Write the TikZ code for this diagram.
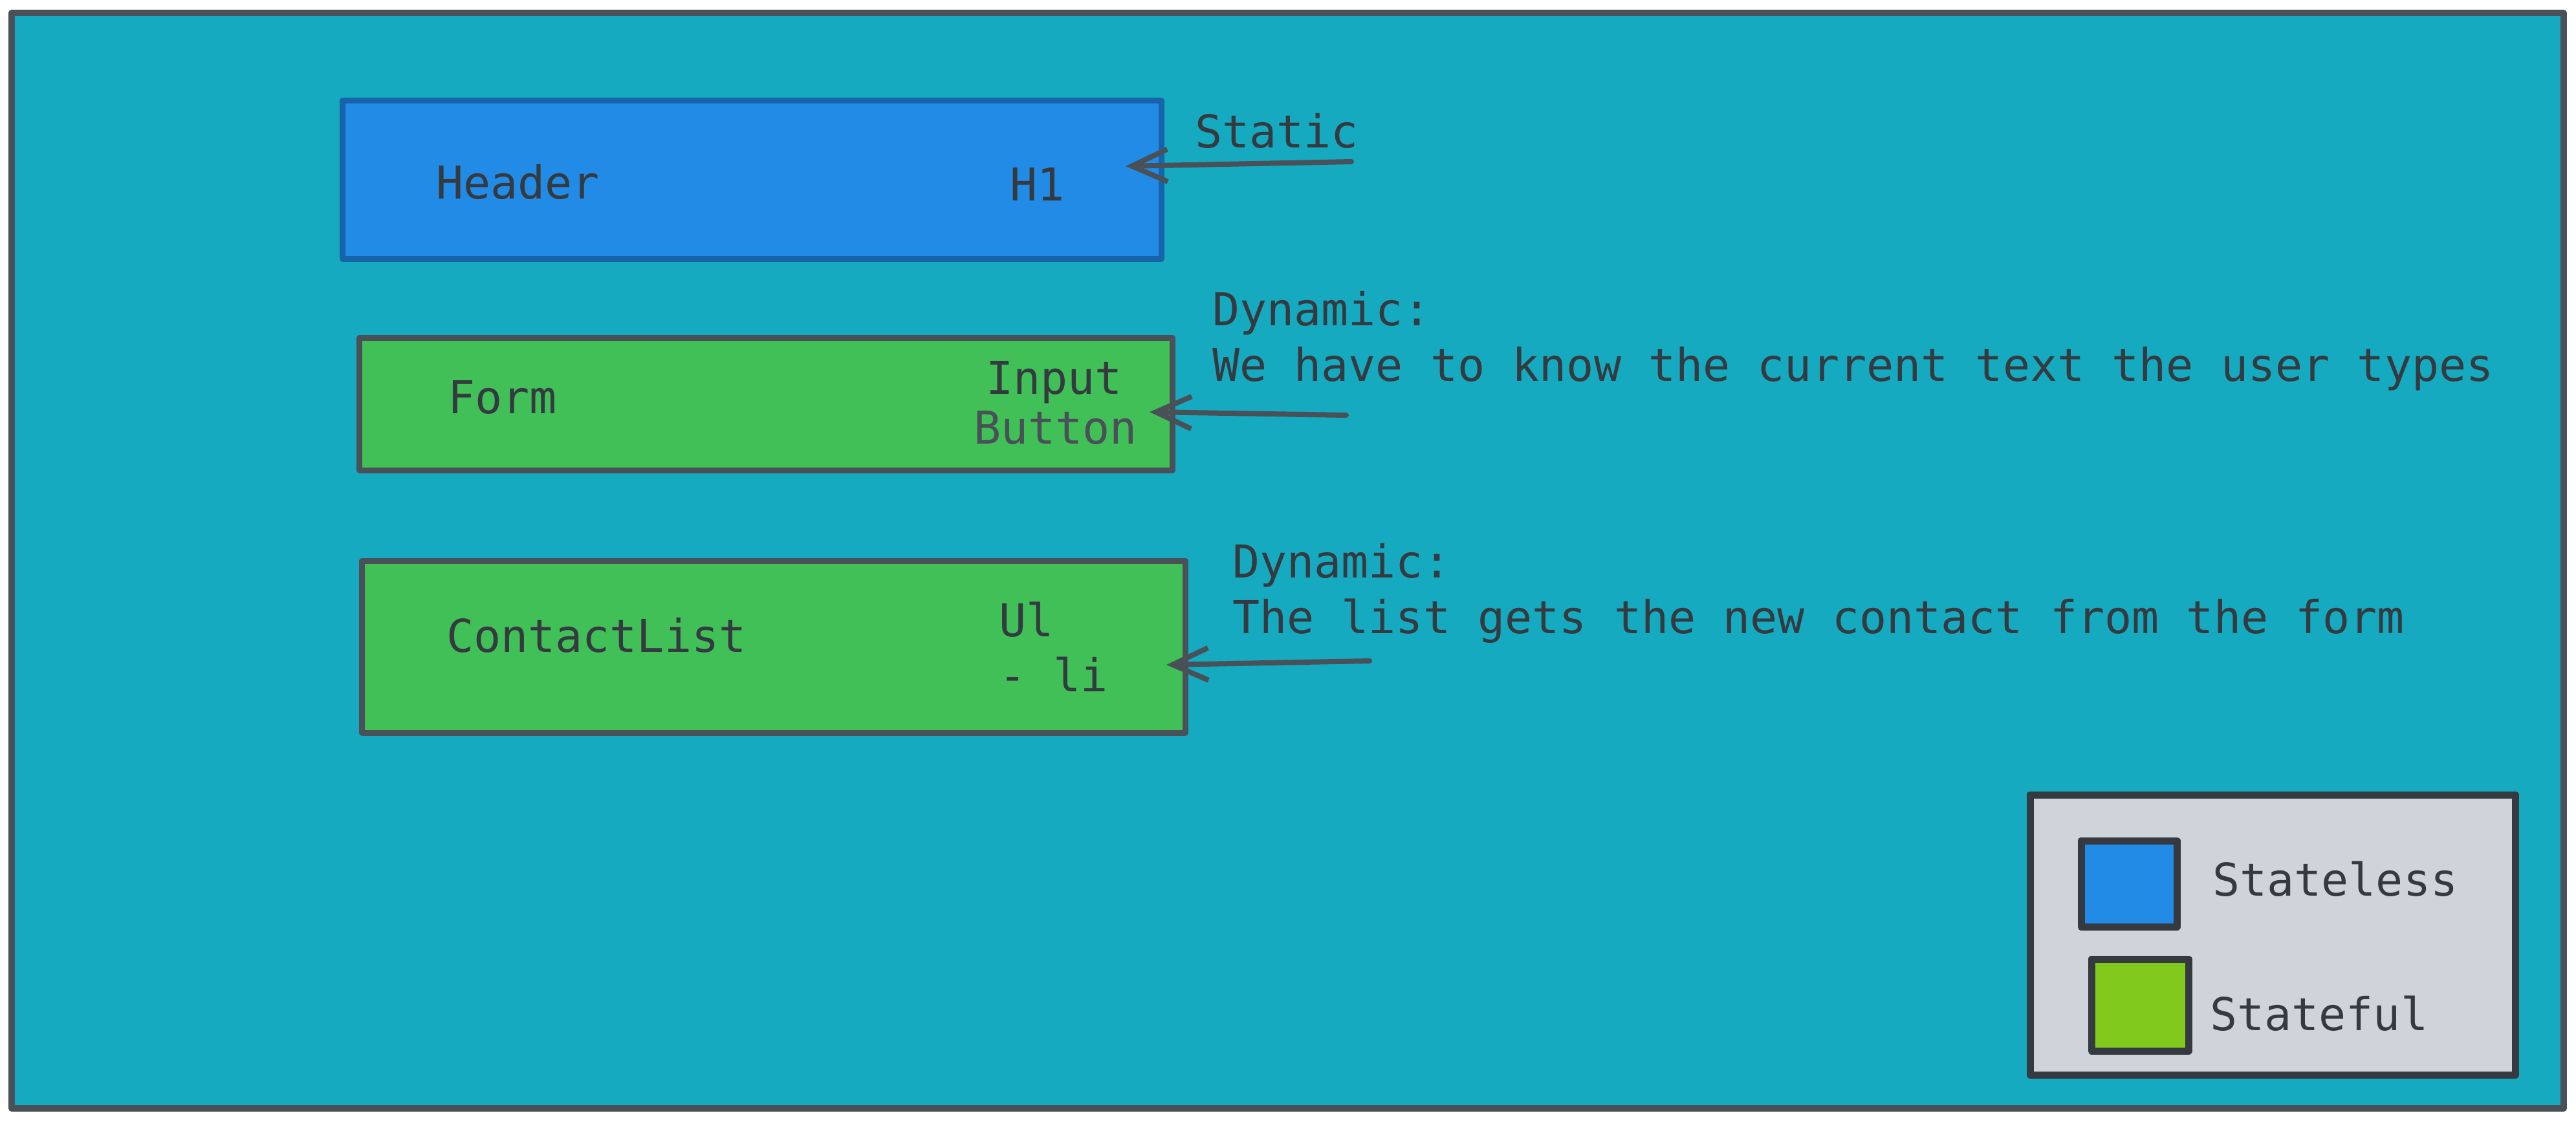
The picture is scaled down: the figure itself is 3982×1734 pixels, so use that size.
\documentclass[tikz,border=0pt]{standalone}
\usepackage{fontspec}
\setmonofont{DejaVu Sans Mono}
\usetikzlibrary{arrows.meta}
\definecolor{teal}{HTML}{15AABF}
\definecolor{sblue}{HTML}{228BE6}
\definecolor{dblue}{HTML}{1864AB}
\definecolor{sgreen}{HTML}{40C057}
\definecolor{slime}{HTML}{82C91E}
\definecolor{lgray}{HTML}{CED4DA}
\definecolor{ink}{HTML}{343A40}
\definecolor{strk}{HTML}{495057}
\tikzset{
  box/.style={rectangle, inner sep=0pt, outer sep=0pt, line width=1.8pt, line join=round},
  lbl/.style={anchor=base west, inner sep=0pt, outer sep=0pt, text=ink, font=\ttfamily\fontsize{14}{17.2}\selectfont},
  arr/.style={draw=strk, line width=1.6pt, line cap=round, -{Straight Barb[length=11pt,width=10pt,line width=1.6pt]}}
}
\begin{document}
\begin{tikzpicture}[x=0.2pt,y=-0.2pt]
\useasboundingbox (0,0) rectangle (3982,1734);
% frame
\node[box, draw=strk, fill=teal, line width=2pt, minimum width=789pt, minimum height=338.8pt] (frame) at (1990.5,867) {};
% component boxes
\node[box, draw=dblue, fill=sblue, minimum width=253pt, minimum height=49pt] (hdr) at (1162.5,277.5) {};
\node[box, draw=strk, fill=sgreen, minimum width=251.2pt, minimum height=41pt] (form) at (1184,624.5) {};
\node[box, draw=strk, fill=sgreen, minimum width=254.4pt, minimum height=53.2pt] (clist) at (1196,1000) {};
% texts in boxes
\node[lbl] (thdr) at (674,307) {Header};
\node[lbl] (th1) at (1561,310) {H1};
\node[lbl] (tform) at (692,639) {Form};
\node[lbl] (tinput) at (1524,609) {Input};
\node[lbl, text=strk] (tbutton) at (1505,686) {Button};
\node[lbl] (tclist) at (690,1008) {ContactList};
\node[lbl] (tul) at (1544,984) {Ul};
\node[lbl] (tli) at (1544,1069) {- li};
% annotations
\node[lbl] (tstatic) at (1847,228) {Static};
\node[lbl] (tdyn1) at (1874,503) {Dynamic:};
\node[lbl] (tdyn1b) at (1874,589) {We have to know the current text the user types};
\node[lbl] (tdyn2) at (1905,893) {Dynamic:};
\node[lbl] (tdyn2b) at (1905,979) {The list gets the new contact from the form};
% arrows
\coordinate (a1s) at (2089,250);
\coordinate (a1t) at (1740,257);
\coordinate (a2s) at (2081,642);
\coordinate (a2t) at (1777,637);
\coordinate (a3s) at (2117,1022);
\coordinate (a3t) at (1803,1028);
\draw[arr] (a1s) -- (a1t);
\draw[arr] (a2s) -- (a2t);
\draw[arr] (a3s) -- (a3t);
% legend
\node[box, draw=ink, fill=lgray, line width=2.2pt, minimum width=150pt, minimum height=86.6pt] (legend) at (3513,1445.5) {};
\node[box, draw=ink, fill=sblue, line width=2.2pt, minimum width=29.6pt, minimum height=26.6pt] (sqblue) at (3291,1366.5) {};
\node[box, draw=ink, fill=slime, line width=2.2pt, minimum width=30pt, minimum height=28.4pt] (sqgreen) at (3308,1554) {};
\node[lbl] (tstateless) at (3420,1385) {Stateless};
\node[lbl] (tstateful) at (3416,1593) {Stateful};
\end{tikzpicture}
\end{document}
